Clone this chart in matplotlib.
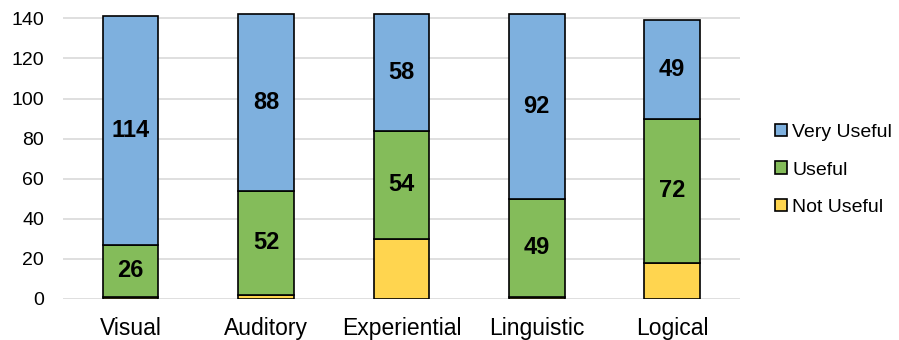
import numpy as np
import matplotlib.pyplot as plt

plt.rcParams['font.family'] = ['Liberation Sans', 'DejaVu Sans']

categories = ["Visual", "Auditory", "Experiential", "Linguistic", "Logical"]
not_useful = [1, 2, 30, 1, 18]
useful = [26, 52, 54, 49, 72]
very_useful = [114, 88, 58, 92, 49]

colors = {"Not Useful": "#FFD54F", "Useful": "#84BC5A", "Very Useful": "#7EB0DE"}

fig = plt.figure(figsize=(8.99, 3.4), dpi=100)
ax = fig.add_axes([0.070, 0.1206, 0.753, 0.855])

x = np.arange(len(categories))
width = 0.41
bottom = np.zeros(len(categories))
handles = {}
for name, vals in [("Not Useful", not_useful), ("Useful", useful), ("Very Useful", very_useful)]:
    vals = np.array(vals)
    bars = ax.bar(x, vals, width, bottom=bottom, color=colors[name],
                  edgecolor="black", linewidth=1.2, zorder=3, label=name)
    handles[name] = bars
    # only the larger two series carry value labels
    if name != "Not Useful":
        for xi, b, v in zip(x, bottom, vals):
            ax.text(xi, b + v / 2, str(v), ha="center", va="center",
                    fontsize=17, fontweight="bold", zorder=4)
    bottom = bottom + vals

ax.set_xlim(-0.5, len(categories) - 0.5)
ax.set_ylim(0, 145)
ax.set_yticks(range(0, 141, 20))
ax.set_xticks(x)
ax.set_xticklabels(categories, fontsize=16.5)
ax.tick_params(axis="y", labelsize=14, length=0, pad=13.5)
ax.tick_params(axis="x", length=0, pad=13)
for s in ax.spines.values():
    s.set_visible(False)
ax.grid(axis="y", color="#D9D9D9", linewidth=1.2, zorder=0)
ax.set_axisbelow(True)

order = ["Very Useful", "Useful", "Not Useful"]
fig.legend([handles[n] for n in order], order, loc="center left",
           bbox_to_anchor=(0.862, 0.5), frameon=False, fontsize=14,
           handlelength=0.6, handleheight=0.6, handletextpad=0.3,
           labelspacing=1.05, borderaxespad=0, borderpad=0)

fig.savefig("out.png", dpi=100)
